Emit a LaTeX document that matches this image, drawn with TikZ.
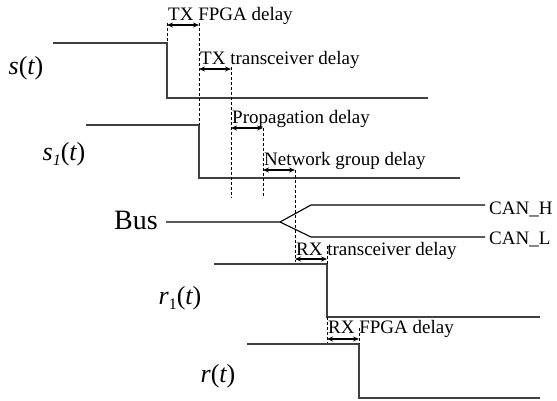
\documentclass[tikz,border=0pt]{standalone}
\usepackage{fontspec}
\setmainfont{Liberation Serif}
\usetikzlibrary{arrows.meta}
\begin{document}
\begin{tikzpicture}[x=1pt,y=-1pt,
  wave/.style={line width=1.2pt, draw=black!75},
  guide/.style={line width=0.7pt, dash pattern=on 3pt off 2pt},
  span/.style={line width=1.6pt, {Stealth[length=6pt,width=5pt]}-{Stealth[length=6pt,width=5pt]}},
  lbl/.style={font=\fontsize{19}{20}\selectfont, inner sep=0pt, anchor=base west},
  sig/.style={font=\fontsize{26}{28}\selectfont, inner sep=0pt}]
\useasboundingbox (0,0) rectangle (557,401);

% transmitted signal s(t)
\coordinate (s0) at (53,43);  \coordinate (s1) at (167,43);
\coordinate (s2) at (167,98); \coordinate (s3) at (428,98);
\draw[wave] (s0) -- (s1) -- (s2) -- (s3);
\node[sig] (ls) at (26,68) {\itshape s\upshape(\itshape t\upshape)};

% transceiver input s1(t)
\coordinate (a0) at (86,125);  \coordinate (a1) at (199,125);
\coordinate (a2) at (199,178); \coordinate (a3) at (460,178);
\draw[wave] (a0) -- (a1) -- (a2) -- (a3);
\node[sig] (la) at (64,154) {\itshape s\raisebox{-0.2em}{\fontsize{16}{16}\selectfont 1}\upshape(\itshape t\upshape)};

% differential bus
\coordinate (b0) at (166,222); \coordinate (bf) at (280,222);
\coordinate (bh) at (311,205); \coordinate (bhe) at (485,205);
\coordinate (bl) at (311,237); \coordinate (ble) at (485,237);
\draw[line width=1.1pt] (b0) -- (bf) -- (bh) -- (bhe);
\draw[line width=1.1pt] (bf) -- (bl) -- (ble);
\node[font=\fontsize{28}{30}\selectfont, inner sep=0pt, anchor=base west] (lbus) at (114,229) {Bus};
\node[lbl] (lh) at (489,214) {CAN\_H};
\node[lbl] (ll) at (489,244) {CAN\_L};

% receiver output r1(t)
\coordinate (c0) at (214,264); \coordinate (c1) at (327,264);
\coordinate (c2) at (327,317); \coordinate (c3) at (540,317);
\draw[wave] (c0) -- (c1) -- (c2) -- (c3);
\node[sig] (lc) at (180,298) {\itshape r\upshape\raisebox{-0.2em}{\fontsize{16}{16}\selectfont 1}(\itshape t\upshape)};

% received signal r(t)
\coordinate (d0) at (247,344); \coordinate (d1) at (359,344);
\coordinate (d2) at (359,398); \coordinate (d3) at (540,398);
\draw[wave] (d0) -- (d1) -- (d2) -- (d3);
\node[sig] (ld) at (218,376) {\itshape r\upshape(\itshape t\upshape)};

% timing guides
\coordinate (g1) at (167,23);
\coordinate (g2) at (199,23);
\coordinate (g3t) at (231,67);  \coordinate (g3b) at (231,198);
\coordinate (g4t) at (263,128); \coordinate (g4b) at (263,198);
\coordinate (g5t) at (295,170); \coordinate (g5b) at (295,262);
\coordinate (g6t) at (327,246);
\coordinate (g6b) at (327,343);
\coordinate (g7t) at (359,328);
\draw[guide] (g1) -- (s1);
\draw[guide] (g2) -- (a1);
\draw[guide] (g3t) -- (g3b);
\draw[guide] (g4t) -- (g4b);
\draw[guide] (g5t) -- (g5b);
\draw[guide] (g6t) -- (c1);
\draw[guide] (c2) -- (g6b);
\draw[guide] (g7t) -- (d1);

% delay spans
\coordinate (p1a) at (167,25);  \coordinate (p1b) at (199,25);
\coordinate (p2a) at (199,69);  \coordinate (p2b) at (231,69);
\coordinate (p3a) at (231,128); \coordinate (p3b) at (263,128);
\coordinate (p4a) at (263,170); \coordinate (p4b) at (295,170);
\coordinate (p5a) at (295,259); \coordinate (p5b) at (327,259);
\coordinate (p6a) at (327,339); \coordinate (p6b) at (359,339);
\draw[span] (p1a) -- (p1b);
\draw[span] (p2a) -- (p2b);
\draw[span] (p3a) -- (p3b);
\draw[span] (p4a) -- (p4b);
\draw[span] (p5a) -- (p5b);
\draw[span] (p6a) -- (p6b);

\node[lbl] (t1) at (168,21)  {TX FPGA delay};
\node[lbl] (t2) at (200,65)  {TX transceiver delay};
\node[lbl] (t3) at (232,124) {Propagation delay};
\node[lbl] (t4) at (264,166) {Network group delay};
\node[lbl] (t5) at (296,255) {RX transceiver delay};
\node[lbl] (t6) at (328,333) {RX FPGA delay};
\end{tikzpicture}
\end{document}
